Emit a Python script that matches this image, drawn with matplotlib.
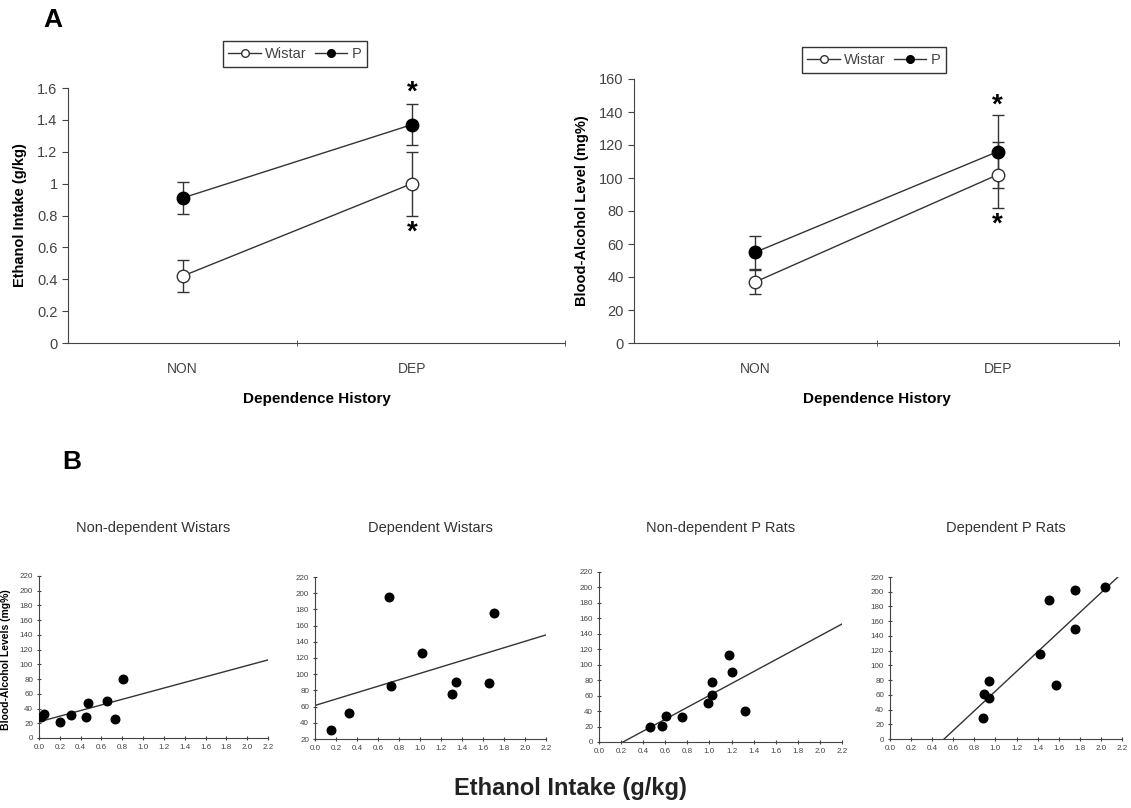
import numpy as np
import matplotlib
matplotlib.use('Agg')
import matplotlib.pyplot as plt
from matplotlib.lines import Line2D
from matplotlib.ticker import FormatStrFormatter, FuncFormatter

plt.rcParams['font.family'] = ['Liberation Sans', 'DejaVu Sans']

# ---- panel A data (means, error bar half-widths) ----
groups = ['NON', 'DEP']
wistar_intake = [0.42, 1.00]
wistar_intake_err = [0.10, 0.20]
p_intake = [0.91, 1.37]
p_intake_err = [0.10, 0.13]

wistar_bal = [37, 102]
wistar_bal_err = [7, 20]
p_bal = [55, 116]
p_bal_err = [10, 22]

# ---- panel B data (ethanol intake g/kg vs blood alcohol mg%) ----
titles_b = ['Non-dependent Wistars', 'Dependent Wistars', 'Non-dependent P Rats', 'Dependent P Rats']
ndw_x = [0.02, 0.05, 0.20, 0.31, 0.45, 0.47, 0.65, 0.73, 0.81]
ndw_y = [28, 32, 22, 31, 29, 47, 50, 26, 80]
dw_x = [0.15, 0.32, 0.70, 0.72, 1.02, 1.30, 1.34, 1.66, 1.70]
dw_y = [31, 52, 195, 86, 126, 76, 90, 89, 175]
ndp_x = [0.46, 0.57, 0.61, 0.75, 0.99, 1.02, 1.02, 1.18, 1.20, 1.32]
ndp_y = [19, 21, 34, 32, 51, 61, 78, 112, 91, 40]
dp_x = [0.88, 0.89, 0.94, 0.94, 1.42, 1.51, 1.57, 1.75, 1.75, 2.04]
dp_y = [28, 61, 56, 79, 116, 189, 73, 202, 149, 207]
# regression lines (intercept, slope)
fit_intercept = [22, 61.4, -16.7, -68.5]
fit_slope = [38.2, 39.6, 77.0, 133.5]
y_min_b = [0, 20, 0, 0]

fig = plt.figure(figsize=(11.31, 8.08), dpi=100)
W, H = 1131, 808

def px_axes(l, t, r, b):
    return fig.add_axes([l / W, 1 - b / H, (r - l) / W, (b - t) / H])

line_col = '#333333'
tick_col = '#444444'

def panel_a(ax, wistar, wistar_err, p, p_err, ymax, ystep, ylabel, xmax, stars, fmt):
    x = np.arange(1, len(groups) + 1)
    ax.errorbar(x, p, yerr=p_err, color=line_col, lw=1, marker='o', ms=9,
                mfc='black', mec='black', capsize=4.5, elinewidth=1, zorder=3)
    ax.errorbar(x, wistar, yerr=wistar_err, color=line_col, lw=1, marker='o', ms=9,
                mfc='white', mec=line_col, mew=1, capsize=4.5, elinewidth=1, zorder=3)
    ax.set_xlim(0.5, xmax)
    ax.set_ylim(0, ymax)
    ax.set_xticks(x)
    ax.set_xticklabels(groups, fontsize=10, color=tick_col)
    ax.set_xticks([1.5, xmax], minor=True)
    ax.tick_params(axis='x', which='major', length=0, pad=14)
    ax.tick_params(axis='x', which='minor', length=4, direction='inout', color=tick_col)
    ax.set_yticks(np.arange(0, ymax + ystep / 2, ystep))
    ax.yaxis.set_major_formatter(FuncFormatter(fmt))
    ax.tick_params(axis='y', labelsize=10.5, labelcolor=tick_col, length=4, color=tick_col)
    for s in ['top', 'right']:
        ax.spines[s].set_visible(False)
    for s in ['left', 'bottom']:
        ax.spines[s].set_color(tick_col)
    ax.set_ylabel(ylabel, fontsize=10.5, fontweight='bold', labelpad=7)
    ax.set_xlabel('Dependence History', fontsize=11, fontweight='bold', labelpad=11)
    for (sx, sy) in stars:
        ax.text(sx, sy, '*', fontsize=20, fontweight='bold', ha='center', va='center')

axA1 = px_axes(68, 88, 565, 343)
panel_a(axA1, wistar_intake, wistar_intake_err, p_intake, p_intake_err, 1.6, 0.2,
        'Ethanol Intake (g/kg)', 2.668, [(2, 1.57), (2, 0.69)], lambda v, pos: '%g' % round(v, 1))
axA2 = px_axes(634, 79, 1119, 343)
panel_a(axA2, wistar_bal, wistar_bal_err, p_bal, p_bal_err, 160, 20,
        'Blood-Alcohol Level (mg%)', 2.5, [(2, 144), (2, 72)], lambda v, pos: '%d' % v)

leg_handles = [Line2D([], [], color=line_col, lw=1, marker='o', ms=5.5, mfc='white', mec=line_col),
               Line2D([], [], color=line_col, lw=1, marker='o', ms=5.5, mfc='black', mec='black')]
for cx, cy in [(295, 54), (874, 60)]:
    leg = fig.legend(leg_handles, ['Wistar', 'P'], loc='center', bbox_to_anchor=(cx / W, 1 - cy / H), ncol=2,
                     fontsize=10.5, frameon=True, fancybox=False, edgecolor='black',
                     handlelength=2.2, handletextpad=0.3, columnspacing=0.6, borderpad=0.4)
    leg.get_frame().set_linewidth(1.0)
    for t in leg.get_texts():
        t.set_color(tick_col)

fig.text(53 / W, 1 - 20 / H, 'A', fontsize=19, fontweight='bold', ha='center', va='center')
fig.text(72 / W, 1 - 462 / H, 'B', fontsize=19, fontweight='bold', ha='center', va='center')

# ---- panel B ----
b_boxes = [(39, 576, 268, 738), (315, 577, 546, 739), (599, 572, 842, 742), (890, 577, 1122, 739)]
b_data = [(ndw_x, ndw_y), (dw_x, dw_y), (ndp_x, ndp_y), (dp_x, dp_y)]
for i, (box, (bx, by)) in enumerate(zip(b_boxes, b_data)):
    ax = px_axes(*box)
    ax.scatter(bx, by, s=38, color='black', zorder=3)
    xx = np.array([0, 2.2])
    ax.plot(xx, fit_intercept[i] + fit_slope[i] * xx, color=line_col, lw=1)
    ax.set_xlim(0, 2.2)
    ax.set_ylim(y_min_b[i], 220)
    ax.set_xticks(np.arange(0, 2.21, 0.2))
    ax.set_yticks(np.arange(y_min_b[i], 221, 20))
    ax.xaxis.set_major_formatter(FormatStrFormatter('%.1f'))
    ax.tick_params(labelsize=5.8, labelcolor=tick_col, length=2.5, width=0.8,
                   direction='inout', color=tick_col, pad=3)
    for s in ['top', 'right']:
        ax.spines[s].set_visible(False)
    for s in ['left', 'bottom']:
        ax.spines[s].set_color(tick_col)
    fig.text((box[0] + box[2]) / 2 / W, 1 - 528 / H, titles_b[i], fontsize=10.5, color='#333333',
             ha='center', va='center')

fig.text(0.005, 1 - 660 / H, 'Blood-Alcohol Levels (mg%)', fontsize=7.5, fontweight='bold',
         rotation=90, ha='center', va='center')
fig.text(570 / W, 1 - 789 / H, 'Ethanol Intake (g/kg)', fontsize=17, fontweight='bold',
         ha='center', va='center', color='#222222')

fig.savefig('out.png', dpi=100)
